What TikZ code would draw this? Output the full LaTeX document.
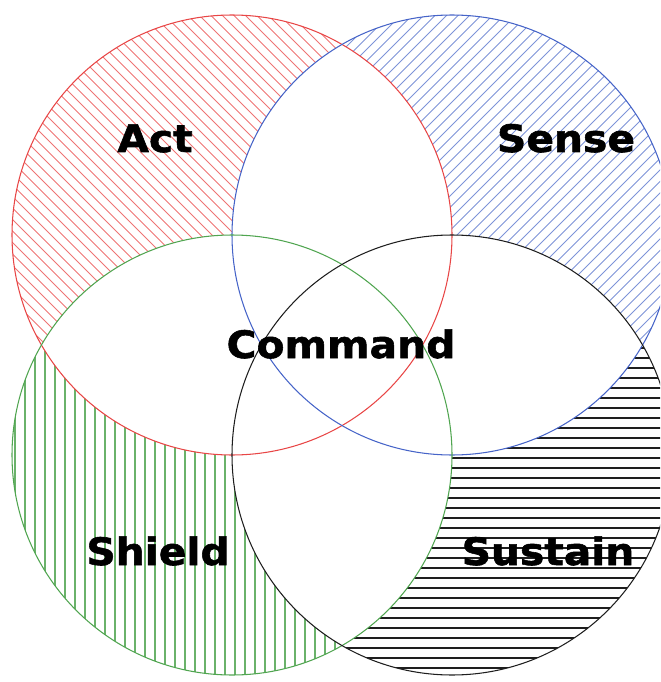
\documentclass[tikz,border=0pt]{standalone}
\usepackage{fontspec}
\newfontfamily\vennfont[FakeStretch=1.08,FakeBold=1.5]{DejaVu Sans}
\usepackage{tikz}

\definecolor{actred}{RGB}{232,70,70}
\definecolor{senseblue}{RGB}{70,100,200}
\definecolor{shieldgreen}{RGB}{80,165,80}
\definecolor{sustainblack}{RGB}{30,30,30}

\begin{document}
\begin{tikzpicture}[
    x=0.02cm, y=-0.02cm,
    ring/.style={line width=0.6pt},
    hatch/.style={line width=0.55pt},
    label/.style={font=\vennfont\bfseries\fontsize{21.5}{24}\selectfont, anchor=base, inner sep=0pt}
]
\useasboundingbox (0,0) rectangle (660,682);
\clip (0,0) rectangle (660,682);

\coordinate (act) at (232,235);
\coordinate (sense) at (452,235);
\coordinate (shield) at (232,455);
\coordinate (sustain) at (452,455);

\begin{scope}[even odd rule]
    \clip (-50,-50) rectangle (800,800) (sense) circle (220);
    \clip (-50,-50) rectangle (800,800) (shield) circle (220);
    \clip (act) circle (220);
    \foreach \c in {-322,-310.5,...,322}
        \draw[hatch, actred!75] (\c-50,-50) -- (\c+800,800);
\end{scope}
\begin{scope}[even odd rule]
    \clip (-50,-50) rectangle (800,800) (act) circle (220);
    \clip (-50,-50) rectangle (800,800) (sustain) circle (220);
    \clip (sense) circle (220);
    \foreach \c in {370,381.5,...,1010}
        \draw[hatch, senseblue!70] (\c+50,-50) -- (\c-800,800);
\end{scope}
\begin{scope}[even odd rule]
    \clip (-50,-50) rectangle (800,800) (act) circle (220);
    \clip (-50,-50) rectangle (800,800) (sustain) circle (220);
    \clip (shield) circle (220);
    \foreach \c in {15,25,...,455}
        \draw[hatch, shieldgreen!85, line width=0.6pt] (\c,200) -- (\c,700);
\end{scope}
\begin{scope}[even odd rule]
    \clip (-50,-50) rectangle (800,800) (sense) circle (220);
    \clip (-50,-50) rectangle (800,800) (shield) circle (220);
    \clip (sustain) circle (220);
    \foreach \c in {238,248,...,678}
        \draw[hatch, sustainblack, line width=0.75pt] (200,\c) -- (700,\c);
\end{scope}

\draw[ring, actred] (act) circle (220);
\draw[ring, senseblue] (sense) circle (220);
\draw[ring, shieldgreen] (shield) circle (220);
\draw[ring, sustainblack] (sustain) circle (220);

\node[label] (actlabel) at (155,152) {Act};
\node[label] (senselabel) at (566,152) {Sense};
\node[label] (commandlabel) at (341,358) {Command};
\node[label] (shieldlabel) at (158,565) {Shield};
\node[label] (sustainlabel) at (548,565) {Sustain};
\end{tikzpicture}
\end{document}
